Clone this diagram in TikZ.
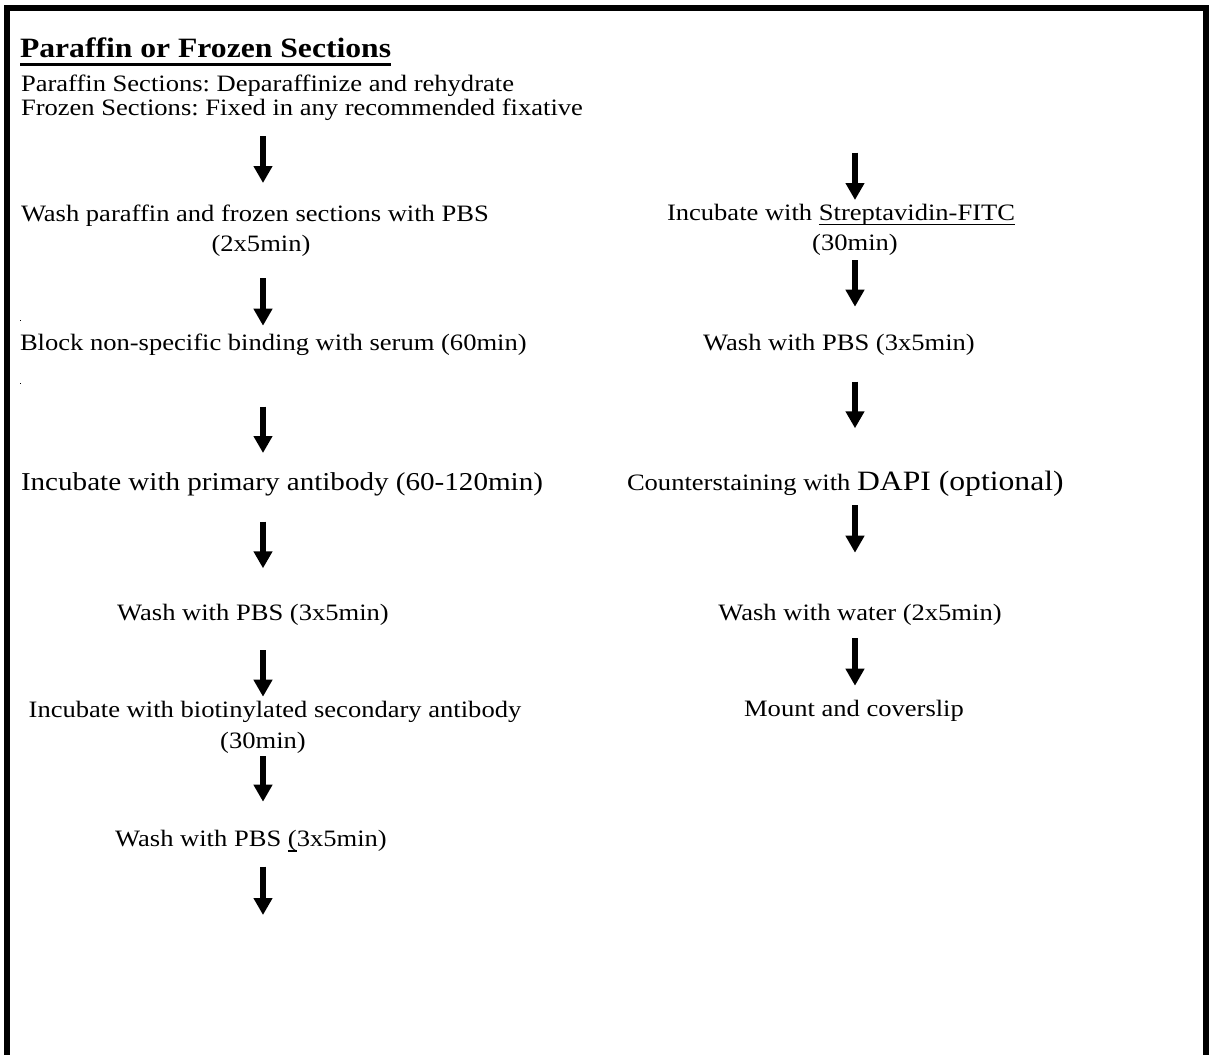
\documentclass[tikz,border=0pt]{standalone}
\usepackage{fontspec}
\setmainfont{Liberation Serif}[FakeStretch=1.13, Ligatures=NoCommon]
\usetikzlibrary{arrows.meta}
\newcommand\ulbox[3]{\setbox0\hbox{#3}\rlap{\rule[-#1]{\wd0}{#2}}\box0\relax}
\frenchspacing
\begin{document}
\begin{tikzpicture}[x=1bp,y=-1bp,
  txt/.style={inner sep=0pt, outer sep=0pt, font=\fontsize{23.5bp}{28bp}\selectfont},
  lft/.style={txt, anchor=base west},
  ctr/.style={txt, anchor=base},
  flow/.style={line width=5.5bp, -{Triangle[width=18bp,length=17bp]}},
  frame/.style={line width=6bp, line join=miter}]
\useasboundingbox (0,0) rectangle (1209,1055);
\fill[white] (0,0) rectangle (1209,1055);
\draw[frame] (7,1055) -- (7,8) -- (1206,8) -- (1206,1055);

% left column
\node[lft, font=\fontsize{28bp}{32bp}\selectfont\bfseries] (title) at (20,57.3) {\ulbox{9bp}{3bp}{Paraffin or Frozen Sections}};
\node[lft] (para) at (21,91.7) {Paraffin Sections: Deparaffinize and rehydrate};
\node[lft] (froz) at (21,115.7) {Frozen Sections: Fixed in any recommended fixative};
\node[lft] (wash1) at (21,221.7) {Wash paraffin and frozen sections with PBS};
\node[ctr] (wash1t) at (261,251.7) {(2x5min)};
\node[lft] (block) at (20,350.7) {Block non-specific binding with serum (60min)};
\node[lft, font=\fontsize{25.75bp}{30bp}\selectfont] (prim) at (21,490) {Incubate with primary antibody (60-120min)};
\node[ctr] (wash2) at (253,620) {Wash with PBS (3x5min)};
\node[ctr] (sec) at (275,717) {Incubate with biotinylated secondary antibody};
\node[ctr] (sect) at (263,748) {(30min)};
\node[ctr] (wash3) at (251,846.7) {Wash with PBS \ulbox{5bp}{1.3bp}{(}3x5min)};

% right column
\node[lft] (strep) at (667,220.7) {Incubate with \ulbox{4.5bp}{1.5bp}{Streptavidin-FITC}};
\node[ctr] (strept) at (855,250.7) {(30min)};
\node[ctr] (wash4) at (839,350) {Wash with PBS (3x5min)};
\node[lft] (dapi) at (627,490) {Counterstaining with {\fontsize{28bp}{32bp}\selectfont DAPI (optional)}};
\node[ctr] (water) at (860,620) {Wash with water (2x5min)};
\node[ctr] (mount) at (854,716.7) {Mount and coverslip};

% stray specks
\fill (19.5,319.5) rectangle +(1.5,1.5);
\fill (19.5,382.5) rectangle +(1.5,1.5);

% arrow end points
\coordinate (l1s) at (263,136);   \coordinate (l1e) at (263,183);
\coordinate (l2s) at (263,278);   \coordinate (l2e) at (263,325.7);
\coordinate (l3s) at (263,406.7); \coordinate (l3e) at (263,453);
\coordinate (l4s) at (263,521.7); \coordinate (l4e) at (263,568.3);
\coordinate (l5s) at (263,650);   \coordinate (l5e) at (263,696.7);
\coordinate (l6s) at (263,756);   \coordinate (l6e) at (263,801.7);
\coordinate (l7s) at (263,866.7); \coordinate (l7e) at (263,915);
\coordinate (r1s) at (855,152.7); \coordinate (r1e) at (855,200);
\coordinate (r2s) at (855,260);   \coordinate (r2e) at (855,306.7);
\coordinate (r3s) at (855,381.7); \coordinate (r3e) at (855,428.3);
\coordinate (r4s) at (855,505);   \coordinate (r4e) at (855,552.7);
\coordinate (r5s) at (855,638);   \coordinate (r5e) at (855,685.7);

\foreach \a in {l1,l2,l3,l4,l5,l6,l7,r1,r2,r3,r4,r5}
  \draw[flow] (\a s) -- (\a e);
\end{tikzpicture}
\end{document}
